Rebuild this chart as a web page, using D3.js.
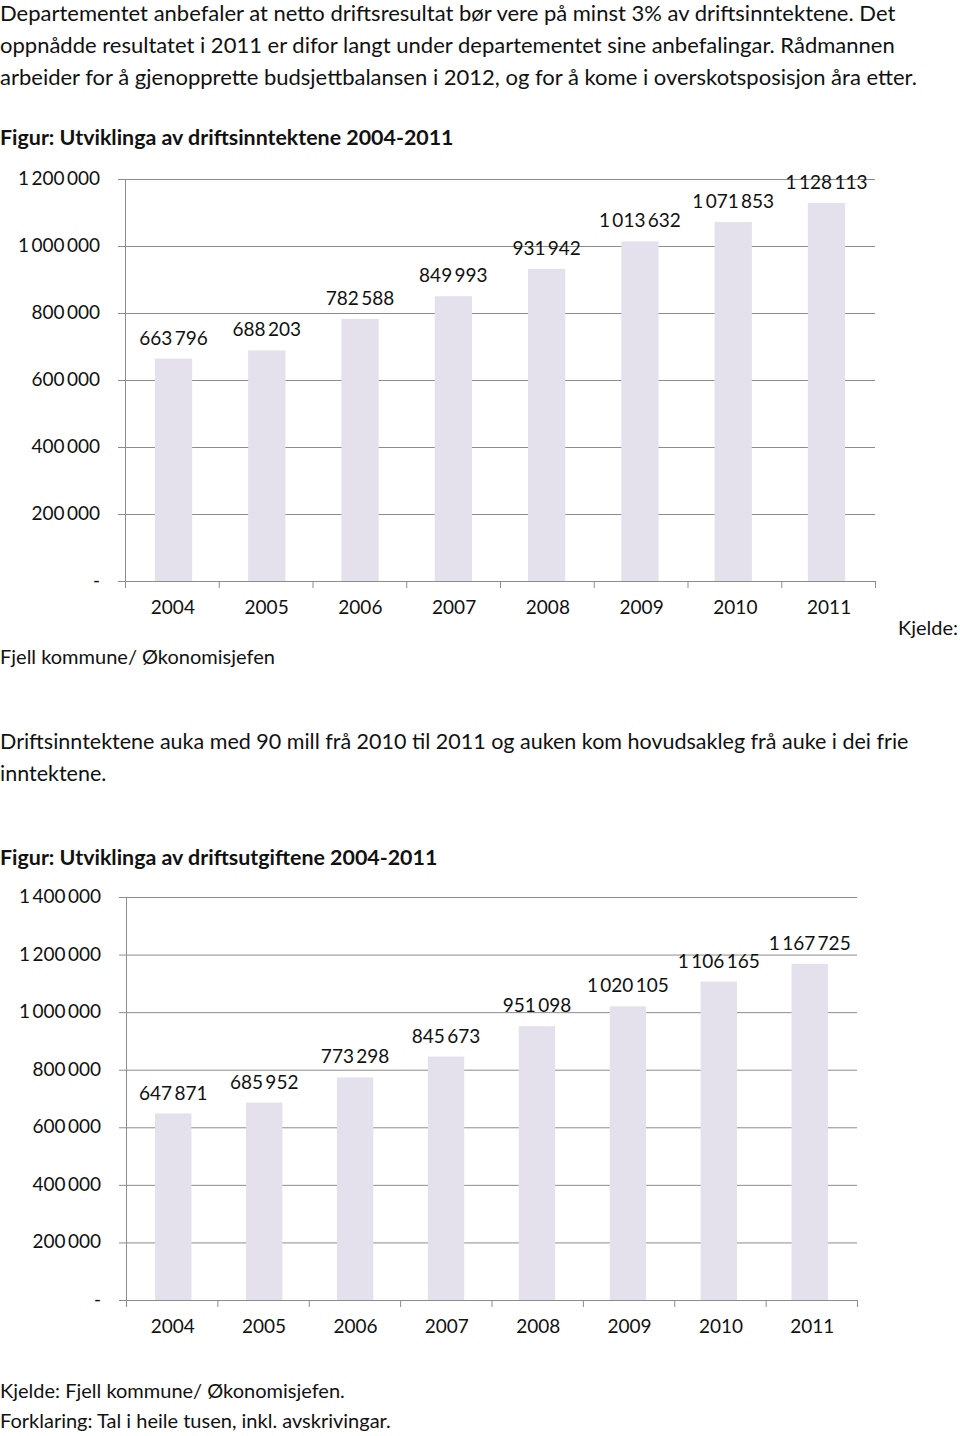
<!DOCTYPE html>
<html><head><meta charset="utf-8">
<script src="https://cdn.jsdelivr.net/npm/d3@7"></script>
<style>body{margin:0;background:#fff}svg{display:block}text{font-family:Lato,"Open Sans",sans-serif;fill:#111}</style>
</head><body>
<svg id="c" width="960" height="1436"></svg>
<script>
const years = ["2004","2005","2006","2007","2008","2009","2010","2011"];
const incomeValues = [663796, 688203, 782588, 849993, 931942, 1013632, 1071853, 1128113];
const expenseValues = [647871, 685952, 773298, 845673, 951098, 1020105, 1106165, 1167725];
const incomeTicks = [0, 200000, 400000, 600000, 800000, 1000000, 1200000];
const expenseTicks = [0, 200000, 400000, 600000, 800000, 1000000, 1200000, 1400000];

const svg = d3.select("#c");
const fmt = v => v === 0 ? "-" : d3.format(",")(v).replace(/,/g, "\u2009");

const paraLines = [
  "Departementet anbefaler at netto driftsresultat bør vere på minst 3% av driftsinntektene. Det",
  "oppnådde resultatet i 2011 er difor langt under departementet sine anbefalingar. Rådmannen",
  "arbeider for å gjenopprette budsjettbalansen i 2012, og for å kome i overskotsposisjon åra etter."
];
paraLines.forEach((t, i) => svg.append("text").attr("x", 0).attr("y", 21 + i * 32).attr("font-size", 22).text(t));

function text(t, x, y, size, anchor, weight) {
  return svg.append("text").attr("x", x).attr("y", y).attr("font-size", size)
    .attr("text-anchor", anchor || "start").attr("font-weight", weight || "normal").text(t);
}

text("Figur: Utviklinga av driftsinntektene 2004-2011", 0, 145, 21.4, "start", "bold");
text("Kjelde:", 958, 635, 20, "end");
text("Fjell kommune/ Økonomisjefen", 0, 664, 20);
text("Driftsinntektene auka med 90 mill frå 2010 til 2011 og auken kom hovudsakleg frå auke i dei frie", 0, 749, 21.5);
text("inntektene.", 0, 781, 21.5);
text("Figur: Utviklinga av driftsutgiftene 2004-2011", 0, 865, 21.4, "start", "bold");
text("Kjelde: Fjell kommune/ Økonomisjefen.", 0, 1398, 20);
text("Forklaring: Tal i heile tusen, inkl. avskrivingar.", 0, 1428, 20);

function chart(values, ticks, x0, x1, yTop, yBottom, maxV) {
  const g = svg.append("g");
  const x = d3.scaleBand().domain(years).range([x0, x1]).paddingInner(0.6).paddingOuter(0.32);
  const xt = d3.scaleBand().domain(years).range([x0, x1]);
  const y = d3.scaleLinear().domain([0, maxV]).range([yBottom, yTop]);
  g.selectAll("line.grid").data(ticks).join("line")
    .attr("x1", x0 - 7).attr("x2", x1).attr("y1", d => y(d) + 0.5).attr("y2", d => y(d) + 0.5)
    .attr("stroke", "#8c8c8c").attr("stroke-width", 1);
  g.selectAll("rect").data(values).join("rect")
    .attr("x", (d, i) => x(years[i])).attr("width", x.bandwidth())
    .attr("y", d => y(d)).attr("height", d => yBottom - y(d))
    .attr("fill", "#e4e0ec");
  g.append("line").attr("x1", x0 + 0.5).attr("x2", x0 + 0.5).attr("y1", yTop).attr("y2", yBottom + 7)
    .attr("stroke", "#8c8c8c");
  g.selectAll("line.xt").data(years).join("line")
    .attr("x1", (d, i) => x0 + xt.step() * (i + 1) + 0.5).attr("x2", (d, i) => x0 + xt.step() * (i + 1) + 0.5)
    .attr("y1", yBottom).attr("y2", yBottom + 7).attr("stroke", "#8c8c8c");
  g.selectAll("text.yl").data(ticks).join("text")
    .attr("x", x0 - 25).attr("y", d => y(d) + 6).attr("text-anchor", "end").attr("font-size", 19)
    .text(fmt);
  g.selectAll("text.xl").data(years).join("text")
    .attr("x", d => xt(d) + xt.bandwidth() / 2 + 1).attr("y", yBottom + 33).attr("text-anchor", "middle")
    .attr("font-size", 19).text(d => d);
  g.selectAll("text.vl").data(values).join("text")
    .attr("x", (d, i) => x(years[i]) + x.bandwidth() / 2).attr("y", d => y(d) - 14)
    .attr("text-anchor", "middle").attr("font-size", 19).text(fmt);
}

chart(incomeValues, incomeTicks, 125, 875, 179, 581, 1200000);
chart(expenseValues, expenseTicks, 126, 857, 897, 1300, 1400000);
</script>
</body></html>
